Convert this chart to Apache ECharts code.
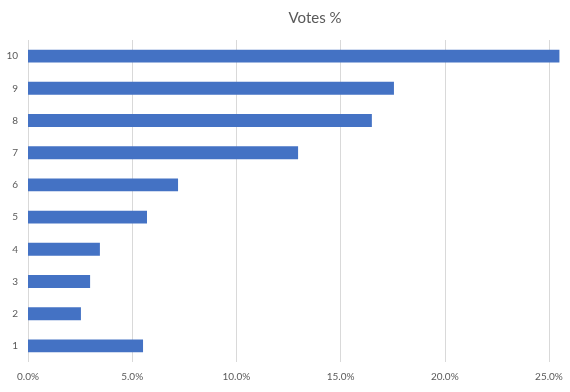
<!DOCTYPE html>
<html><head><meta charset="utf-8">
<script src="https://cdn.jsdelivr.net/npm/echarts@6/dist/echarts.min.js"></script>
<style>html,body{margin:0;padding:0;background:#fff}#c{width:570px;height:392px}</style>
</head><body><div id="c"></div>
<script>
const categories = ['1','2','3','4','5','6','7','8','9','10'];
const votes = [0.0552, 0.0254, 0.0298, 0.0345, 0.0571, 0.0720, 0.1296, 0.1650, 0.1756, 0.2550];
const xTicks = [0, 0.05, 0.10, 0.15, 0.20, 0.25];
const title = 'Votes %';

const chart = echarts.init(document.getElementById('c'));
const font = 'Lato, "Open Sans", sans-serif';
chart.setOption({
  animation: false,
  title: { text: title, left: 310, top: 6, textAlign: 'center',
    textStyle: { fontFamily: font, fontSize: 15, fontWeight: 'normal', color: '#595959' } },
  grid: { left: 28, right: 21, top: 40, bottom: 30, containLabel: false },
  xAxis: {
    type: 'value', min: xTicks[0], max: xTicks[xTicks.length-1], interval: 0.05,
    axisLine: { show: false }, axisTick: { show: false },
    splitLine: { show: true, lineStyle: { color: '#d9d9d9', width: 1 } },
    axisLabel: { color: '#595959', fontFamily: font, fontSize: 10, margin: 10,
      formatter: v => (v * 100).toFixed(1) + '%' }
  },
  yAxis: {
    type: 'category', data: categories,
    axisLine: { show: false }, axisTick: { show: false },
    axisLabel: { color: '#595959', fontFamily: font, fontSize: 10, margin: 10 }
  },
  series: [{
    type: 'bar', data: votes, clip: false,
    barCategoryGap: '60%',
    itemStyle: { color: '#4472C4' }
  }]
});
</script></body></html>
